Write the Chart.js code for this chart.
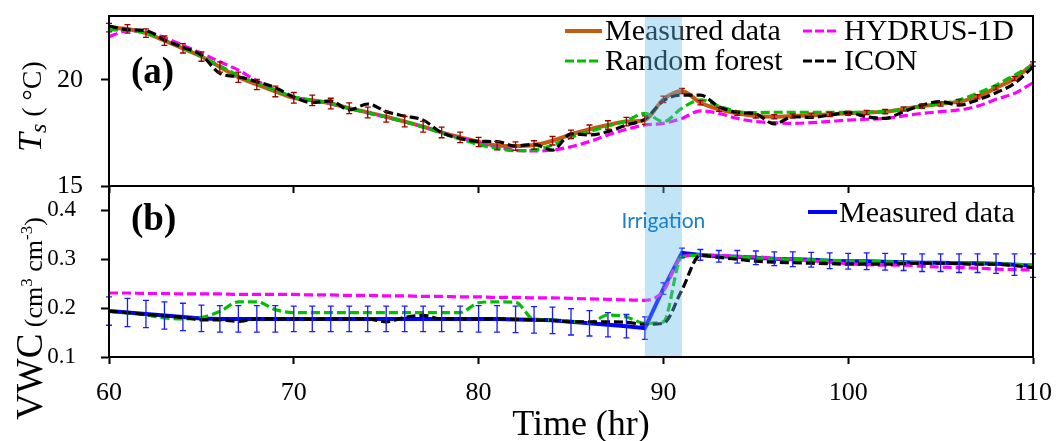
<!DOCTYPE html>
<html lang="en">
<head>
<meta charset="UTF-8">
<title>Soil temperature and water content</title>
<script src="https://cdn.jsdelivr.net/npm/chart.js"></script>
<style>
  body { margin: 0; background: #fff; }
  .wrap { position: relative; width: 1057px; height: 441px; }
  .wrap canvas { position: absolute; left: 0; top: 0; }
</style>
</head>
<body>
<div class="wrap">
  <canvas id="tsChart" width="1057" height="210"></canvas>
  <canvas id="vwcChart" width="1057" height="441"></canvas>
</div>

<script>
// hourly time stamps (hr)
const HOURS = [60,61,62,63,64,65,66,67,68,69,70,71,72,73,74,75,76,77,78,79,80,
  81,82,83,84,85,86,87,88,89,90,91,92,93,94,95,96,97,98,99,100,
  101,102,103,104,105,106,107,108,109,110];

// soil temperature, panel (a)
const TS_MEASURED = [22.45,22.39,22.19,21.84,21.48,21.09,20.6,20.12,19.78,19.45,19.15,
  19.03,18.88,18.66,18.46,18.26,18.03,17.79,17.52,17.29,17.07,
  16.9,16.88,16.93,17.13,17.43,17.67,17.87,18.03,18.1,19.08,
  19.47,18.92,18.61,18.42,18.29,18.26,18.29,18.33,18.37,18.42,
  18.46,18.5,18.62,18.76,18.86,18.97,19.2,19.62,20.06,20.74];
const TS_ERR = [0.2,0.2,0.2,0.22,0.22,0.22,0.24,0.24,0.24,0.25,0.25,
  0.25,0.25,0.25,0.25,0.25,0.25,0.25,0.25,0.25,0.22,
  0.2,0.2,0.2,0.2,0.2,0.2,0.2,0.2,0.2,0.15,
  0.12,0.1,0.1,0.1,0.1,0.1,0.1,0.1,0.1,0.1,
  0.1,0.1,0.1,0.1,0.1,0.1,0.1,0.1,0.1,0.1];
const TS_HYDRUS = [22.03,22.3,22.26,21.98,21.62,21.25,20.85,20.45,19.95,19.52,19.17,
  19.02,18.86,18.66,18.44,18.24,18.02,17.78,17.52,17.27,17.03,
  16.83,16.68,16.65,16.69,16.85,17.09,17.4,17.67,17.87,17.95,
  18.18,18.54,18.42,18.18,18.03,17.98,17.95,17.98,18.04,18.1,
  18.14,18.18,18.3,18.42,18.5,18.58,18.76,19.08,19.36,19.86];
const TS_RF = [22.35,22.33,22.2,21.88,21.5,21.1,20.65,20.2,19.85,19.5,19.2,
  19.03,18.88,18.66,18.45,18.25,18.02,17.78,17.5,17.22,16.95,
  16.77,16.66,16.69,16.93,17.29,17.56,17.82,18.07,18.42,18.03,
  18.66,19.05,18.76,18.5,18.45,18.47,18.47,18.47,18.47,18.46,
  18.48,18.52,18.6,18.73,18.88,19.05,19.36,19.75,20.22,20.69];
const TS_ICON = [22.53,22.36,22.31,21.87,21.53,21.16,20.3,20.14,19.91,19.63,19.18,
  18.92,19.01,18.58,18.86,18.5,18.29,18.1,17.51,17.24,17.1,
  17.09,16.88,16.96,16.69,17.45,17.4,17.56,17.87,18.14,19.01,
  19.28,19.28,18.73,18.47,18.39,17.92,18.26,18.23,18.34,18.45,
  18.26,18.18,18.5,18.81,18.97,18.81,19.05,19.39,19.83,20.61];

// volumetric water content, panel (b)
const VWC_MEASURED = [0.194,0.191,0.188,0.185,0.182,0.179,0.178,0.178,0.178,0.178,0.178,
  0.178,0.178,0.178,0.178,0.178,0.178,0.178,0.178,0.178,0.178,
  0.178,0.177,0.176,0.175,0.172,0.169,0.166,0.163,0.159,0.24,
  0.313,0.309,0.306,0.305,0.303,0.301,0.3,0.299,0.297,0.296,
  0.296,0.295,0.294,0.293,0.293,0.292,0.292,0.291,0.289,0.287];
const VWC_ERR = [0.029,0.029,0.028,0.028,0.028,0.027,0.027,0.027,0.027,0.027,0.026,
  0.026,0.026,0.026,0.026,0.026,0.026,0.026,0.026,0.026,0.027,
  0.027,0.027,0.027,0.027,0.027,0.026,0.025,0.024,0.023,0.012,
  0.01,0.011,0.012,0.013,0.014,0.014,0.015,0.015,0.016,0.016,
  0.017,0.017,0.017,0.018,0.018,0.019,0.019,0.02,0.022,0.024];
const VWC_HYDRUS = [0.231,0.231,0.23,0.23,0.229,0.229,0.229,0.228,0.228,0.228,0.228,
  0.227,0.227,0.226,0.226,0.225,0.225,0.224,0.224,0.223,0.223,
  0.222,0.222,0.221,0.221,0.22,0.219,0.218,0.217,0.216,0.235,
  0.305,0.309,0.308,0.306,0.305,0.302,0.3,0.297,0.294,0.291,
  0.289,0.288,0.288,0.286,0.284,0.283,0.282,0.28,0.279,0.278];
const VWC_RF = [0.194,0.19,0.186,0.18,0.178,0.181,0.193,0.213,0.213,0.197,0.191,
  0.191,0.191,0.191,0.191,0.191,0.191,0.191,0.191,0.191,0.211,
  0.213,0.212,0.177,0.176,0.173,0.17,0.186,0.182,0.169,0.172,
  0.305,0.308,0.306,0.305,0.303,0.301,0.3,0.299,0.298,0.297,
  0.296,0.295,0.294,0.293,0.293,0.292,0.292,0.291,0.29,0.288];
const VWC_ICON = [0.194,0.191,0.187,0.184,0.181,0.176,0.176,0.173,0.178,0.178,0.178,
  0.177,0.178,0.178,0.178,0.172,0.181,0.185,0.178,0.178,0.178,
  0.178,0.177,0.176,0.175,0.172,0.172,0.172,0.171,0.167,0.169,
  0.237,0.308,0.304,0.3,0.296,0.294,0.293,0.292,0.291,0.29,
  0.29,0.29,0.291,0.292,0.292,0.291,0.29,0.29,0.287,0.283];

// axis ticks and irrigation window
const X_TICKS = [60, 70, 80, 90, 100, 110];
const TS_TICKS = [15, 20];
const VWC_TICKS = [0.1, 0.2, 0.3, 0.4];
const IRRIGATION = [89, 91];

const SERIF = '"Liberation Serif", "Times New Roman", serif';
const C_ORANGE = '#c55a11', C_MAGENTA = '#ff00ff', C_GREEN = '#00c000',
      C_BLACK = '#000000', C_BLUE = '#0000ff';

function pts(values) {
  return HOURS.map((h, i) => ({ x: h, y: values[i] }));
}

function line(label, values, color, opts) {
  return Object.assign({
    label: label,
    data: pts(values),
    borderColor: color,
    borderWidth: 3.2,
    borderDash: [9, 4],
    pointRadius: 0,
    fill: false,
    cubicInterpolationMode: 'monotone'
  }, opts || {});
}

// scales keep exactly the box we give them, no extra room for labels
function noPadding(s) {
  s.paddingLeft = s.paddingRight = s.paddingTop = s.paddingBottom = 0;
}

// rotated text made of several runs (italic, sub/superscripts)
function drawRotated(ctx, x, y, parts) {
  ctx.save();
  ctx.translate(x, y);
  ctx.rotate(-Math.PI / 2);
  ctx.textAlign = 'left';
  ctx.textBaseline = 'alphabetic';
  ctx.fillStyle = '#000';
  let cx = 0;
  parts.forEach(p => {
    ctx.font = p.font;
    ctx.fillText(p.text, cx, p.dy || 0);
    cx += ctx.measureText(p.text).width;
  });
  ctx.restore();
}

function legendItem(ctx, x0, x1, y, color, dash, width, text, tx, ty) {
  ctx.save();
  ctx.strokeStyle = color;
  ctx.lineWidth = width;
  ctx.setLineDash(dash);
  ctx.beginPath();
  ctx.moveTo(x0, y);
  ctx.lineTo(x1, y);
  ctx.stroke();
  ctx.restore();
  ctx.fillStyle = '#000';
  ctx.font = '30px ' + SERIF;
  ctx.textAlign = 'left';
  ctx.textBaseline = 'alphabetic';
  ctx.fillText(text, tx, ty);
}

// error bars, irrigation band, frame and panel text
function decor(extra) {
  return {
    id: 'decor',
    afterDraw(chart) {
      const ctx = chart.ctx;
      const xs = chart.scales.x, ys = chart.scales.y;
      const area = chart.chartArea;

      chart.data.datasets.forEach(ds => {
        if (!ds.errors) return;
        ctx.save();
        ctx.strokeStyle = ds.errorColor;
        ctx.lineWidth = 1.3;
        ds.data.forEach((p, i) => {
          const px = xs.getPixelForValue(p.x);
          const top = ys.getPixelForValue(p.y + ds.errors[i]);
          const bot = ys.getPixelForValue(p.y - ds.errors[i]);
          ctx.beginPath();
          ctx.moveTo(px, top); ctx.lineTo(px, bot);
          ctx.moveTo(px - 3, top); ctx.lineTo(px + 3, top);
          ctx.moveTo(px - 3, bot); ctx.lineTo(px + 3, bot);
          ctx.stroke();
        });
        ctx.restore();
      });

      extra.legend(ctx);

      const bx0 = xs.getPixelForValue(IRRIGATION[0]);
      const bx1 = xs.getPixelForValue(IRRIGATION[1]);
      ctx.save();
      ctx.fillStyle = 'rgba(100, 190, 235, 0.4)';
      ctx.fillRect(bx0, area.top, bx1 - bx0, area.bottom - area.top);
      ctx.strokeStyle = '#000';
      ctx.lineWidth = 2;
      ctx.strokeRect(area.left, area.top, area.right - area.left, area.bottom - area.top);
      ctx.restore();

      extra.text(ctx, xs);
    }
  };
}

function panelOptions(cfg) {
  return {
    responsive: false,
    animation: false,
    devicePixelRatio: 1,
    layout: { padding: { left: 0, right: 24, top: cfg.top, bottom: 0 } },
    plugins: { legend: { display: false }, tooltip: { enabled: false } },
    scales: {
      x: {
        type: 'linear', min: 60, max: 110,
        afterBuildTicks: s => { s.ticks = X_TICKS.map(v => ({ value: v })); },
        afterFit: s => { s.height = cfg.xHeight; noPadding(s); },
        ticks: { display: cfg.xLabels, padding: 14, color: '#000',
                 font: { family: SERIF, size: 26 } },
        grid: { drawOnChartArea: false, drawTicks: true, tickLength: 7,
                tickWidth: 2, tickColor: '#000' },
        border: { color: '#000', width: 2 }
      },
      y: {
        type: 'linear', min: cfg.yMin, max: cfg.yMax,
        afterBuildTicks: s => { s.ticks = cfg.yTicks.map(v => ({ value: v })); },
        afterFit: s => { s.width = 109; noPadding(s); },
        ticks: { padding: cfg.yPad, color: '#000', callback: cfg.yFormat,
                 font: { family: SERIF, size: cfg.yFont } },
        grid: { drawOnChartArea: false, drawTicks: true, tickLength: 8,
                tickWidth: 2, tickColor: '#000' },
        border: { color: '#000', width: 2 }
      }
    }
  };
}

// (a) soil temperature
new Chart(document.getElementById('tsChart'), {
  type: 'line',
  data: {
    datasets: [
      line('ICON', TS_ICON, C_BLACK),
      line('Random forest', TS_RF, C_GREEN),
      line('HYDRUS-1D', TS_HYDRUS, C_MAGENTA),
      line('Measured data', TS_MEASURED, C_ORANGE, {
        borderDash: [], borderWidth: 4, errors: TS_ERR, errorColor: '#990000'
      })
    ]
  },
  options: panelOptions({
    top: 16, xHeight: 24, xLabels: false,
    yMin: 15, yMax: 23, yTicks: TS_TICKS, yPad: 18, yFont: 26,
    yFormat: v => String(v)
  }),
  plugins: [decor({
    legend(ctx) {
      legendItem(ctx, 565, 602, 31, C_ORANGE, [], 4, 'Measured data', 605, 40);
      legendItem(ctx, 803, 837, 31, C_MAGENTA, [9, 3], 3, 'HYDRUS-1D', 844, 40);
      legendItem(ctx, 565, 601, 61, C_GREEN, [9, 3], 3, 'Random forest', 605, 70);
      legendItem(ctx, 803, 837, 61, C_BLACK, [9, 3], 3, 'ICON', 844, 70);
    },
    text(ctx) {
      ctx.fillStyle = '#000';
      ctx.font = 'bold 37px ' + SERIF;
      ctx.textAlign = 'left';
      ctx.textBaseline = 'alphabetic';
      ctx.fillText('(a)', 131, 83);
      drawRotated(ctx, 41, 152, [
        { text: 'T', font: 'italic 34px ' + SERIF },
        { text: 's', font: 'italic 24px ' + SERIF, dy: 5 },
        { text: ' ( \u00b0C)', font: '28px ' + SERIF }
      ]);
    }
  })]
});

// (b) volumetric water content
new Chart(document.getElementById('vwcChart'), {
  type: 'line',
  data: {
    datasets: [
      line('ICON', VWC_ICON, C_BLACK),
      line('Random forest', VWC_RF, C_GREEN),
      line('HYDRUS-1D', VWC_HYDRUS, C_MAGENTA),
      line('Measured data', VWC_MEASURED, C_BLUE, {
        borderDash: [], borderWidth: 4, cubicInterpolationMode: 'default', tension: 0,
        errors: VWC_ERR, errorColor: '#1a1aff'
      })
    ]
  },
  options: panelOptions({
    top: 186, xHeight: 84, xLabels: true,
    yMin: 0.1, yMax: 0.45, yTicks: VWC_TICKS, yPad: 25, yFont: 23,
    yFormat: v => v.toFixed(1)
  }),
  plugins: [decor({
    legend(ctx) {
      legendItem(ctx, 808, 837, 212, C_BLUE, [], 4, 'Measured data', 839, 222);
    },
    text(ctx, xs) {
      ctx.fillStyle = '#000';
      ctx.font = 'bold 37px ' + SERIF;
      ctx.textAlign = 'left';
      ctx.textBaseline = 'alphabetic';
      ctx.fillText('(b)', 131, 230);

      ctx.fillStyle = '#1a7fc4';
      ctx.font = '21px Lato, "Open Sans", sans-serif';
      ctx.textAlign = 'center';
      ctx.fillText('Irrigation', xs.getPixelForValue(90), 228);

      ctx.fillStyle = '#000';
      ctx.font = '36px ' + SERIF;
      ctx.fillText('Time (hr)', 581, 435);

      drawRotated(ctx, 42, 420, [
        { text: 'VWC', font: '37px ' + SERIF },
        { text: ' (cm', font: '26px ' + SERIF },
        { text: '3', font: '17px ' + SERIF, dy: -10 },
        { text: ' cm', font: '26px ' + SERIF },
        { text: '-3', font: '17px ' + SERIF, dy: -10 },
        { text: ')', font: '26px ' + SERIF }
      ]);
    }
  })]
});
</script>
</body>
</html>
